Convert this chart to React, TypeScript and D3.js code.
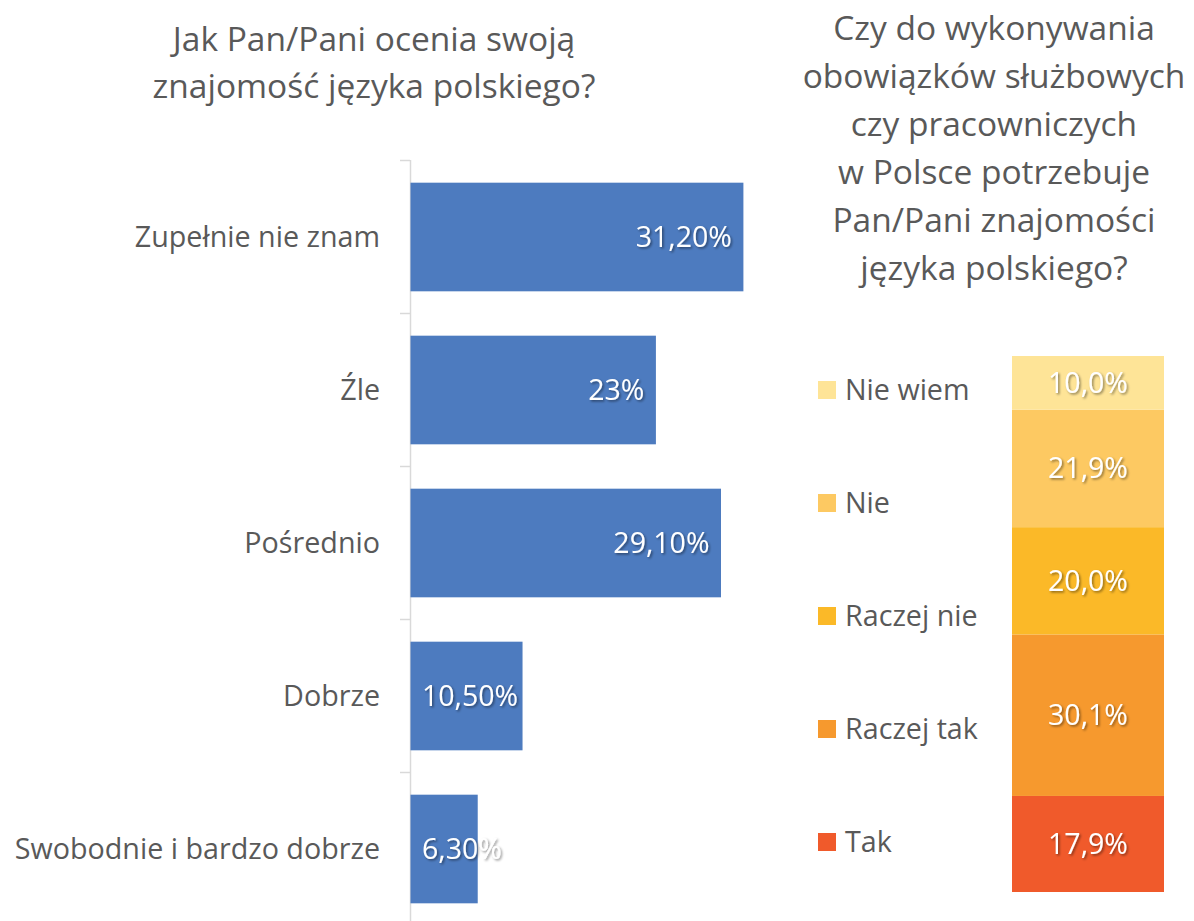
import { useEffect, useRef } from 'react';
import * as d3 from 'd3';

const skillCategories = [
    'Zupełnie nie znam',
    'Źle',
    'Pośrednio',
    'Dobrze',
    'Swobodnie i bardzo dobrze',
];
const skillValues = [31.2, 23, 29.1, 10.5, 6.3];
const skillLabels = ['31,20%', '23%', '29,10%', '10,50%', '6,30%'];

// stacked column, listed bottom -> top
const needCategories = ['Tak', 'Raczej tak', 'Raczej nie', 'Nie', 'Nie wiem'];
const needValues = [17.9, 30.1, 20.0, 21.9, 10.0];
const needColors = ['#f05a2b', '#f6992e', '#fbb928', '#fdc962', '#fee497'];

const leftTitle = ['Jak Pan/Pani ocenia swoją', 'znajomość języka polskiego?'];
const rightTitle = [
    'Czy do wykonywania',
    'obowiązków służbowych',
    'czy pracowniczych',
    'w Polsce potrzebuje',
    'Pan/Pani znajomości',
    'języka polskiego?',
];

const FONT = '"Segoe UI", "Open Sans", sans-serif';
const GREY = '#595959';

export default function App() {
    const ref = useRef<SVGSVGElement | null>(null);

    useEffect(() => {
        const width = 1194;
        const height = 921;
        const svg = d3.select(ref.current);
        svg.selectAll('*').remove();
        svg.attr('width', width).attr('height', height).attr('font-family', FONT);

        // drop shadow for data labels
        const defs = svg.append('defs');
        const f = defs.append('filter').attr('id', 'shadow')
            .attr('x', '-20%').attr('y', '-20%').attr('width', '140%').attr('height', '140%');
        f.append('feDropShadow')
            .attr('dx', 1.5).attr('dy', 1.5).attr('stdDeviation', 1)
            .attr('flood-color', '#000').attr('flood-opacity', 0.45);

        // === Left: horizontal bars ===
        const x = d3.scaleLinear().domain([0, 35]).range([410, 410 + 35 * 10.67]);
        const y = d3.scaleBand<string>()
            .domain(skillCategories)
            .range([160.5, 925.5])
            .paddingInner(0.29)
            .paddingOuter(0.145);

        const left = svg.append('g');

        // titles
        left.append('text')
            .attr('text-anchor', 'middle')
            .attr('font-size', 33.5)
            .attr('fill', GREY)
            .selectAll('tspan')
            .data(leftTitle)
            .enter()
            .append('tspan')
            .attr('x', 374)
            .attr('y', (_, i) => 51 + i * 47)
            .text((d) => d);

        // axis line + ticks
        left.append('line')
            .attr('x1', 410.5).attr('x2', 410.5)
            .attr('y1', 160).attr('y2', height)
            .attr('stroke', '#d9d9d9').attr('stroke-width', 1.5);
        const step = y.step();
        left.selectAll('.tick')
            .data(d3.range(skillCategories.length + 1))
            .enter()
            .append('line')
            .attr('x1', 400).attr('x2', 410)
            .attr('y1', (i) => 160.5 + i * step)
            .attr('y2', (i) => 160.5 + i * step)
            .attr('stroke', '#d9d9d9').attr('stroke-width', 1.5);

        left.selectAll('.bar')
            .data(skillValues)
            .enter()
            .append('rect')
            .attr('x', x(0) + 0.5)
            .attr('y', (_, i) => y(skillCategories[i])!)
            .attr('width', (d) => x(d) - x(0))
            .attr('height', y.bandwidth())
            .attr('fill', '#4d7bbf');

        // category labels
        left.selectAll('.cat')
            .data(skillCategories)
            .enter()
            .append('text')
            .attr('x', 380)
            .attr('y', (d) => y(d)! + y.bandwidth() / 2)
            .attr('dy', '0.35em')
            .attr('text-anchor', 'end')
            .attr('font-size', 28.7)
            .attr('fill', GREY)
            .text((d) => d);

        // value labels, inside end (pushed right if they don't fit)
        left.selectAll('.val')
            .data(skillValues)
            .enter()
            .append('text')
            .attr('y', (_, i) => y(skillCategories[i])! + y.bandwidth() / 2)
            .attr('dy', '0.35em')
            .attr('font-size', 28.5)
            .attr('fill', '#fff')
            .attr('filter', 'url(#shadow)')
            .text((_, i) => skillLabels[i])
            .each(function (d) {
                const el = this as SVGTextElement;
                const w = el.getComputedTextLength();
                const xs = Math.max(x(d) - 11 - w, x(0) + 12);
                d3.select(el).attr('x', xs);
            });

        // === Right: stacked column ===
        const right = svg.append('g');
        right.append('text')
            .attr('text-anchor', 'middle')
            .attr('font-size', 33.5)
            .attr('fill', GREY)
            .selectAll('tspan')
            .data(rightTitle)
            .enter()
            .append('tspan')
            .attr('x', 994)
            .attr('y', (_, i) => 40 + i * 48)
            .text((d) => d);

        const total = d3.sum(needValues);
        const ys = d3.scaleLinear().domain([0, total]).range([892, 356]);
        const cum = needValues.map((_, i) => d3.sum(needValues.slice(0, i)));

        right.selectAll('.seg')
            .data(needValues)
            .enter()
            .append('rect')
            .attr('x', 1012)
            .attr('width', 152)
            .attr('y', (d, i) => ys(cum[i] + d))
            .attr('height', (d, i) => ys(cum[i]) - ys(cum[i] + d))
            .attr('fill', (_, i) => needColors[i]);

        right.selectAll('.segval')
            .data(needValues)
            .enter()
            .append('text')
            .attr('x', 1088)
            .attr('y', (d, i) => ys(cum[i] + d / 2))
            .attr('dy', '0.35em')
            .attr('text-anchor', 'middle')
            .attr('font-size', 28.5)
            .attr('fill', '#fff')
            .attr('filter', 'url(#shadow)')
            .text((d) => d.toFixed(1).replace('.', ',') + '%');

        // legend
        const legY = d3.scalePoint<string>()
            .domain([...needCategories].reverse())
            .range([390, 842]);
        const leg = right.selectAll('.leg')
            .data(needCategories)
            .enter()
            .append('g')
            .attr('transform', (d) => `translate(818, ${legY(d)})`);
        leg.append('rect')
            .attr('x', 0).attr('y', -9)
            .attr('width', 18).attr('height', 18)
            .attr('fill', (_, i) => needColors[i]);
        leg.append('text')
            .attr('x', 27)
            .attr('dy', '0.35em')
            .attr('font-size', 28.7)
            .attr('fill', GREY)
            .text((d) => d);
    }, []);

    return <svg ref={ref} style={{ position: 'absolute', left: 0, top: 0 }} />;
}
